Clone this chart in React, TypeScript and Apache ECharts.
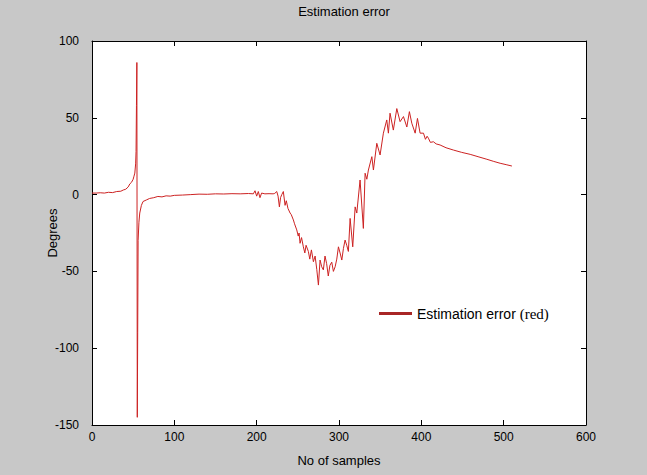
import React, { useEffect, useRef } from "react";
import * as echarts from "echarts";

const sampleX: number[] = [
  0, 5, 10, 15, 20, 25, 30, 35, 38, 41, 44, 46, 48, 50, 51, 52, 53, 53.5, 54, 54.5,
  55, 55.5, 56, 57, 58, 60, 62, 66, 70, 75, 80, 85, 90, 95, 100, 110, 120, 130, 140, 150,
  160, 170, 180, 190, 196, 198, 200, 202, 204, 206, 210, 215, 220, 222, 224.4, 226, 227.6, 229, 230.5, 232.4,
  234.5, 236, 238, 240.6, 242, 244.6, 246, 248.7, 250.5, 251.5, 252.7, 254.5, 256.7, 258.5, 260, 262.8, 264.5, 266.5, 268.9, 271,
  273, 275, 277, 279, 281, 283, 285, 287, 289, 291.2, 293.2, 295.3, 297.3, 299.3, 301.3, 303.4, 305.4, 307.4, 309.4, 311.4,
  313.5, 316.7, 319.6, 321.6, 325.6, 329.6, 331.7, 333.8, 335.7, 339.9, 341.8, 345.9, 349.9, 353.9, 358, 360, 362, 366, 370.2, 374.2,
  378.3, 382.4, 385.5, 388.4, 392.5, 395.3, 398.5, 402.6, 405, 407, 408.6, 411, 414.7, 418, 422.8, 430, 439, 449, 459.3, 470,
  479.6, 488, 495.7, 503, 510,
];

const errorDeg: number[] = [
  1, 1, 1.2, 1, 1.5, 1.3, 2, 2.2, 3, 3.5, 5, 7, 8, 10, 12, 14, 20, 28, 58, 86,
  -145, -90, -30, -18, -12, -7, -4.5, -3.5, -2.5, -2, -1.2, -1.5, -0.8, -1, -0.5, -0.3, 0, 0.3, 0.2, 0.5,
  0.4, 0.6, 0.5, 0.7, 0.5, 2.5, -1, 2, -2, 1, 0.5, 0.6, 0.5, 0.8, 2, -1, -8, -2, 0, 2,
  -7, -4, -9, -12, -13, -16.5, -19, -23, -27, -25, -31.7, -28, -34, -38, -33, -37, -42, -36, -43.7, -40,
  -48.7, -58.9, -42.6, -47, -49, -40, -45, -53, -46, -44, -50, -47, -42, -34, -38, -42.6, -35, -29.6, -33, -37,
  -15.5, -34, -8, -12, 9.5, -22, 13.9, 10, 16, 24.7, 16, 33.4, 25.8, 40, 48.6, 40, 53, 42, 56, 47.5,
  50.8, 44, 54, 46.5, 40, 49.6, 40, 40, 36, 38, 36.7, 34, 34.4, 33, 32.3, 30.5, 29, 27.5, 26.2, 24.5,
  23, 21.6, 20.4, 19.5, 18.6,
];

const xTicks = { min: 0, max: 600, interval: 100 };
const yTicks = { min: -150, max: 100, interval: 50 };

const seriesName = "Estimation error (red)";

export default function App() {
  const ref = useRef<HTMLDivElement>(null);
  useEffect(() => {
    if (!ref.current) return;
    const chart = echarts.init(ref.current, undefined, { renderer: "svg" });
    const data = sampleX.map((x, i) => [x, errorDeg[i]]);
    const font = "Liberation Sans";
    const axisCommon = {
      axisLine: { show: true, onZero: false, lineStyle: { color: "#000", width: 1 } },
      axisTick: { show: true, inside: true, length: 5, lineStyle: { color: "#000" } },
      splitLine: { show: false },
    };
    chart.setOption({
      animation: false,
      backgroundColor: "#c8c8c8",
      textStyle: { fontFamily: font },
      title: {
        text: "Estimation error",
        left: 339,
        textAlign: "center",
        top: 0,
        textStyle: { fontSize: 13, fontWeight: "normal", color: "#000", fontFamily: font },
      },
      grid: {
        left: 92,
        right: 61,
        top: 41,
        bottom: 50,
        show: true,
        backgroundColor: "#ffffff",
        borderWidth: 0,
      },
      legend: {
        left: 374,
        top: 301,
        data: [{ name: seriesName, icon: "rect", itemStyle: { color: "#a82626" } }],
        itemWidth: 33,
        itemHeight: 3,
        itemGap: 6,
        formatter: () => "{a|Estimation error }{b|(red)}",
        textStyle: {
          rich: {
            a: { fontFamily: font, fontSize: 14, color: "#000" },
            b: { fontFamily: "Liberation Serif", fontSize: 15, color: "#000" },
          },
        },
      },
      xAxis: [
        {
          type: "value",
          position: "bottom",
          ...xTicks,
          ...axisCommon,
          axisLabel: { color: "#000", fontSize: 12, margin: 6, fontFamily: font },
          name: "No of samples",
          nameLocation: "middle",
          nameGap: 29,
          nameMoveOverlap: false,
          nameTextStyle: { color: "#000", fontSize: 13, fontFamily: font },
        },
        {
          type: "value",
          position: "top",
          ...xTicks,
          ...axisCommon,
          axisLabel: { show: false },
        },
      ],
      yAxis: [
        {
          type: "value",
          position: "left",
          ...yTicks,
          ...axisCommon,
          axisLabel: { color: "#000", fontSize: 12, margin: 13, fontFamily: font },
          name: "Degrees",
          nameLocation: "middle",
          nameGap: 33,
          nameMoveOverlap: false,
          nameTextStyle: { color: "#000", fontSize: 13, fontFamily: font },
        },
        {
          type: "value",
          position: "right",
          ...yTicks,
          ...axisCommon,
          axisLabel: { show: false },
        },
      ],
      series: [
        {
          name: seriesName,
          type: "line",
          data,
          showSymbol: false,
          symbol: "none",
          lineStyle: { color: "#cc2222", width: 1 },
          itemStyle: { color: "#cc2222" },
        },
      ],
    });
    return () => chart.dispose();
  }, []);
  return (
    <div
      ref={ref}
      style={{ position: "fixed", left: 0, top: 0, width: 647, height: 475 }}
    />
  );
}
